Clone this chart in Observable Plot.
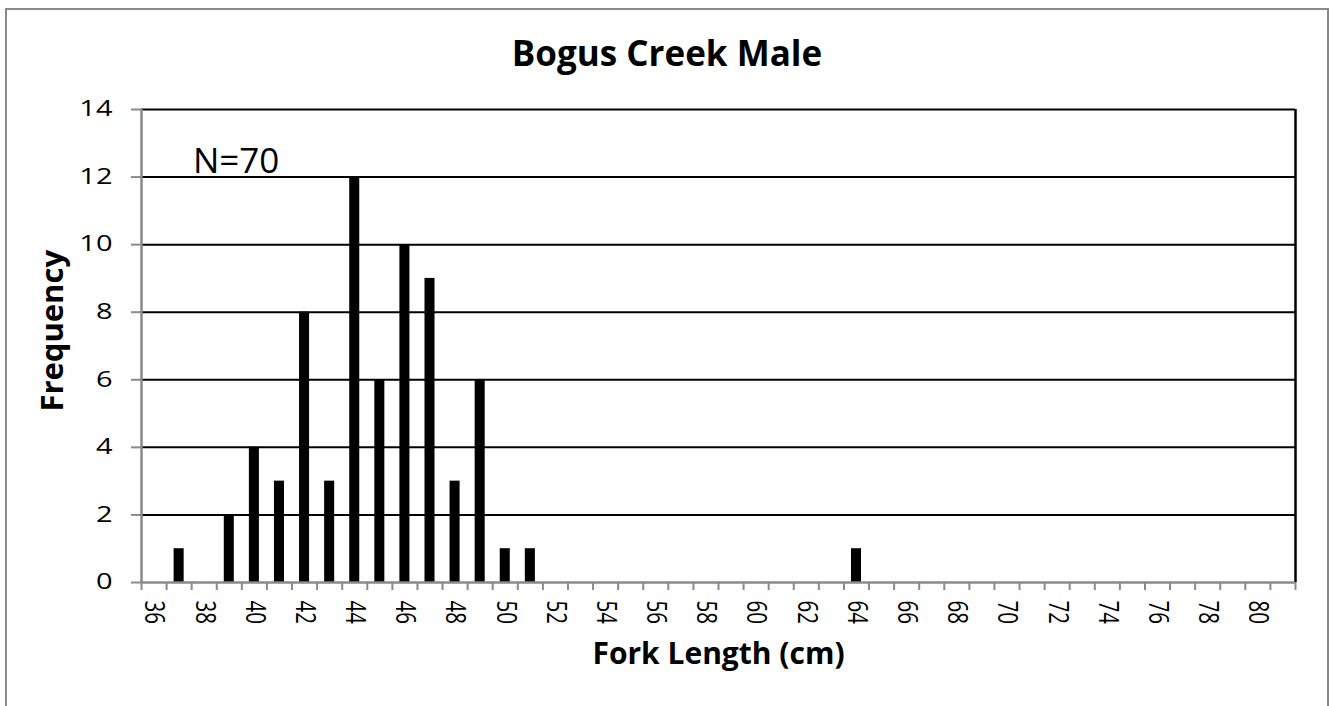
<!DOCTYPE html>
<html>
<head>
<meta charset="utf-8">
<script src="https://cdn.jsdelivr.net/npm/d3@7"></script>
<script src="https://cdn.jsdelivr.net/npm/@observablehq/plot@0.6"></script>
<style>
  html, body { margin: 0; padding: 0; background: #fff; }
  #wrap { position: relative; width: 1330px; height: 706px; overflow: hidden; font-family: "Open Sans", sans-serif; }
  #border { position: absolute; left: 5px; top: 8px; width: 1324px; height: 760px; border: 2px solid #8a8a8a; box-sizing: border-box; }
  #title { position: absolute; left: 0; width: 1334px; top: 31px; text-align: center; font-weight: bold; font-size: 35px; line-height: 44px; color: #000; }
  #chart { position: absolute; left: 0; top: 0; }
</style>
</head>
<body>
<div id="wrap">
  <div id="border"></div>
  <div id="chart"></div>
  <div id="title">Bogus Creek Male</div>
</div>
<script>
// Fork length categories (cm) and observed frequencies
const forkLengths = [37, 39, 40, 41, 42, 43, 44, 45, 46, 47, 48, 49, 50, 51, 64];
const frequencies = [1, 2, 4, 3, 8, 3, 12, 6, 10, 9, 3, 6, 1, 1, 1];
// Full category range of the axis
const categoryMin = 36;
const categoryMax = 81;
// Tick labels
const xTickLabels = d3.range(36, 81, 2);
const yTickLabels = [0, 2, 4, 6, 8, 10, 12, 14];
// Annotation
const annotationText = ["N=70"];
const annotationX = [37.55];
const annotationY = [12.45];

const data = forkLengths.map((len, i) => ({len, count: frequencies[i]}));
const categories = d3.range(categoryMin, categoryMax + 1);
const boundaries = categories.map(c => c - 0.5).concat([categoryMax + 0.5]);
const xLo = categoryMin - 0.5, xHi = categoryMax + 0.5;
const annotation = annotationText.map((t, i) => ({t, x: annotationX[i], y: annotationY[i]}));

const gray = "#8a8a8a";

const plot = Plot.plot({
  width: 1330,
  height: 706,
  marginLeft: 141,
  marginRight: 35,
  marginTop: 109,
  marginBottom: 124,
  style: {fontFamily: "'Open Sans', sans-serif", fontSize: "21px", color: "#000", background: "transparent"},
  x: {type: "linear", domain: [xLo, xHi]},
  y: {domain: [0, 14]},
  marks: [
    Plot.ruleY(yTickLabels.filter(v => v > 0), {stroke: "#000", strokeWidth: 2}),
    Plot.ruleX([xHi], {stroke: "#000", strokeWidth: 2.5}),
    Plot.rectY(data, {x1: d => d.len - 0.2, x2: d => d.len + 0.2, y: "count", fill: "#000"}),
    Plot.ruleX([xLo], {stroke: gray, strokeWidth: 2.5}),
    Plot.ruleY([0], {stroke: gray, strokeWidth: 2.5}),
    Plot.axisY({ticks: yTickLabels, tickSize: 10, tickPadding: 19, stroke: gray, strokeWidth: 2, fill: "#000", label: null, tickFormat: d => String(d)}),
    Plot.axisX({ticks: boundaries, tickSize: 8, stroke: gray, strokeWidth: 2, tickFormat: () => "", label: null}),
    Plot.axisX({ticks: xTickLabels, tickSize: 0, tickPadding: 18, tickRotate: 90, fill: "#000", label: null, tickFormat: d => String(d)}),
    Plot.text(["Fork Length (cm)"], {frameAnchor: "bottom", textAnchor: "middle", lineAnchor: "middle", dy: 72, fontSize: 30, fontWeight: "bold", fill: "#000"}),
    Plot.text(["Frequency"], {y: [7.45], frameAnchor: "left", textAnchor: "middle", lineAnchor: "middle", dx: -88, rotate: -90, fontSize: 31, fontWeight: "bold", fill: "#000"}),
    Plot.text(annotation, {x: "x", y: "y", text: "t", textAnchor: "start", fontSize: 35, fill: "#000"})
  ]
});
document.getElementById("chart").appendChild(plot);

// The reference's tick digits are drawn wide: size them, then stretch them horizontally on screen
function fitLength(selector, size, factor) {
  d3.select(plot).selectAll(selector).each(function() {
    this.style.fontSize = size + "px";
    const w = this.getComputedTextLength();
    if (w > 0) {
      this.setAttribute("textLength", w * factor);
      this.setAttribute("lengthAdjust", "spacingAndGlyphs");
    }
  });
}
fitLength('g[aria-label="y-axis tick label"] text', 21, 1.38);
fitLength('g[aria-label="x-axis tick label"] text', 27, 0.76);
</script>
</body>
</html>
